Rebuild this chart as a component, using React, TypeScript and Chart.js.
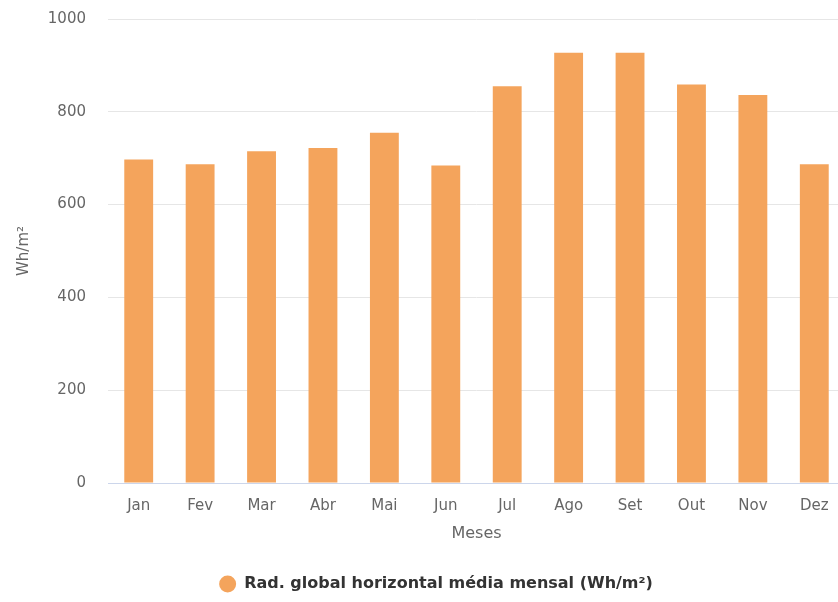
import React, { useEffect, useRef } from 'react';
import { Chart, registerables } from 'chart.js';

Chart.register(...registerables);

const months = ['Jan', 'Fev', 'Mar', 'Abr', 'Mai', 'Jun', 'Jul', 'Ago', 'Set', 'Out', 'Nov', 'Dez'];
const radiation = [697, 687, 715, 722, 755, 684, 855, 927, 927, 859, 836, 687];
const seriesName = 'Rad. global horizontal média mensal (Wh/m²)';
const yMin = 0;
const yMax = 1000;
const yStep = 200;

const FONT = '"DejaVu Sans", Verdana, sans-serif';

export default function App() {
  const ref = useRef<HTMLCanvasElement>(null);

  useEffect(() => {
    document.body.style.margin = '0';
    const chart = new Chart(ref.current!, {
      type: 'bar',
      data: {
        labels: months,
        datasets: [
          {
            label: seriesName,
            data: radiation,
            backgroundColor: '#F4A45C',
            borderWidth: 0,
            categoryPercentage: 1,
            barPercentage: 0.47,
          },
        ],
      },
      options: {
        responsive: false,
        animation: false,
        layout: { padding: { top: 6, left: 0, right: 0, bottom: 0 } },
        plugins: {
          tooltip: { enabled: false },
          legend: {
            position: 'bottom',
            labels: {
              usePointStyle: true,
              pointStyle: 'circle',
              boxHeight: 12,
              pointStyleWidth: 17,
              padding: 10,
              color: '#333333',
              font: { family: FONT, size: 16, weight: 'bold' },
            },
          },
        },
        scales: {
          x: {
            grid: { display: false },
            border: { display: true, color: '#ccd6eb', width: 1 },
            ticks: { color: '#666666', padding: 6, font: { family: FONT, size: 15 } },
            title: {
              display: true,
              text: 'Meses',
              color: '#666666',
              font: { family: FONT, size: 16 },
              padding: { top: 0, bottom: 23 },
            },
            afterFit: (s: any) => {
              s.height = 83;
            },
          },
          y: {
            min: yMin,
            max: yMax,
            grid: { color: '#e6e6e6', drawTicks: false },
            border: { display: false },
            ticks: {
              stepSize: yStep,
              color: '#666666',
              padding: 22,
              font: { family: FONT, size: 15 },
              callback: (v: any) => String(v),
            },
            title: {
              display: true,
              text: 'Wh/m²',
              color: '#666666',
              font: { family: FONT, size: 15 },
              padding: { top: 15, bottom: 0 },
            },
            afterFit: (s: any) => {
              s.width = 108;
            },
          },
          y2: {
            position: 'right',
            display: true,
            grid: { display: false },
            border: { display: false },
            ticks: { display: false },
            afterFit: (s: any) => {
              s.width = 27;
            },
          },
        },
      } as any,
    });
    return () => chart.destroy();
  }, []);

  return (
    <div style={{ width: 838, height: 602, overflow: 'hidden', position: 'relative' }}>
      <canvas ref={ref} width={872} height={614} style={{ display: 'block', position: 'absolute', left: 0, top: -12 }} />
    </div>
  );
}
